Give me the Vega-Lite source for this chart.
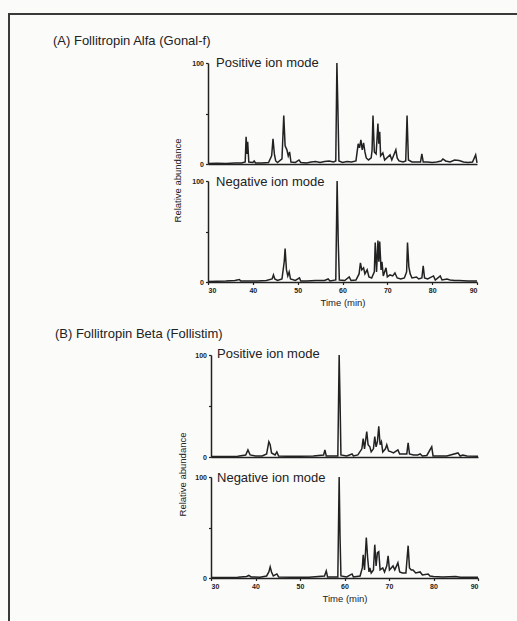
{
  "$schema": "https://vega.github.io/schema/vega-lite/v6.json",
  "width": 520,
  "height": 620,
  "autosize": {"type": "none"},
  "padding": {"left": 9, "top": 14, "right": -12, "bottom": -13},
  "background": "#fbfbfa",
  "config": {
    "view": {"stroke": "#3a3a3a", "strokeWidth": 2},
    "font": "Liberation Sans",
    "axis": {
      "grid": false,
      "domainColor": "#222",
      "domainWidth": 1.5,
      "tickColor": "#222",
      "tickSize": 2.5,
      "tickWidth": 1.2,
      "labelFont": "Liberation Sans",
      "labelFontSize": 7,
      "labelFontWeight": "bold",
      "labelColor": "#222",
      "labelPadding": 2,
      "titleFont": "Liberation Sans",
      "titleColor": "#222",
      "titleFontWeight": "normal"
    },
    "text": {"font": "Liberation Sans", "color": "#222"}
  },
  "datasets": {
    "aPos": [
      {"t": 30, "a": 0.5}, {"t": 32, "a": 0.8}, {"t": 34, "a": 0.6}, {"t": 36, "a": 1}, {"t": 37.5, "a": 1},
      {"t": 38.3, "a": 2}, {"t": 38.5, "a": 27}, {"t": 38.7, "a": 10}, {"t": 38.85, "a": 22}, {"t": 39.1, "a": 2},
      {"t": 40, "a": 1.5}, {"t": 40.3, "a": 3}, {"t": 40.6, "a": 1}, {"t": 42, "a": 1}, {"t": 43.5, "a": 1.5},
      {"t": 44.2, "a": 8}, {"t": 44.5, "a": 25}, {"t": 44.8, "a": 10}, {"t": 45.1, "a": 3}, {"t": 45.5, "a": 1.5},
      {"t": 46.5, "a": 5}, {"t": 46.9, "a": 48}, {"t": 47.2, "a": 18}, {"t": 47.6, "a": 14}, {"t": 47.9, "a": 8},
      {"t": 48.2, "a": 12}, {"t": 48.5, "a": 2}, {"t": 49.5, "a": 1.5}, {"t": 50.3, "a": 4}, {"t": 50.7, "a": 1.5},
      {"t": 52, "a": 1}, {"t": 53, "a": 2}, {"t": 54, "a": 2.5}, {"t": 55, "a": 1.5}, {"t": 56, "a": 2.5},
      {"t": 57, "a": 3}, {"t": 58, "a": 2}, {"t": 58.5, "a": 3}, {"t": 58.75, "a": 100}, {"t": 58.95, "a": 60},
      {"t": 59.2, "a": 3}, {"t": 60, "a": 1.5}, {"t": 61, "a": 2.5}, {"t": 62, "a": 2}, {"t": 63, "a": 3},
      {"t": 63.5, "a": 20}, {"t": 63.8, "a": 16}, {"t": 64.1, "a": 24}, {"t": 64.4, "a": 14}, {"t": 64.7, "a": 21},
      {"t": 65, "a": 12}, {"t": 65.3, "a": 6}, {"t": 65.8, "a": 4}, {"t": 66.4, "a": 6}, {"t": 66.6, "a": 14},
      {"t": 66.8, "a": 48}, {"t": 67.1, "a": 12}, {"t": 67.5, "a": 10}, {"t": 67.9, "a": 40}, {"t": 68.1, "a": 20},
      {"t": 68.3, "a": 32}, {"t": 68.5, "a": 8}, {"t": 69, "a": 11}, {"t": 69.4, "a": 4}, {"t": 70.6, "a": 9},
      {"t": 71, "a": 4}, {"t": 71.9, "a": 14}, {"t": 72.2, "a": 6}, {"t": 72.6, "a": 3}, {"t": 73.5, "a": 2},
      {"t": 74.1, "a": 3}, {"t": 74.4, "a": 48}, {"t": 74.7, "a": 4}, {"t": 75.5, "a": 2}, {"t": 76.5, "a": 2},
      {"t": 77.4, "a": 2}, {"t": 77.7, "a": 10}, {"t": 78, "a": 2}, {"t": 79, "a": 2}, {"t": 80, "a": 1.5},
      {"t": 81, "a": 2}, {"t": 82, "a": 3}, {"t": 82.4, "a": 5}, {"t": 83, "a": 3}, {"t": 84, "a": 2},
      {"t": 85, "a": 4}, {"t": 86, "a": 3.5}, {"t": 87, "a": 2}, {"t": 88, "a": 1.5}, {"t": 89, "a": 2},
      {"t": 89.7, "a": 9}, {"t": 90, "a": 1}
    ],
    "aNeg": [
      {"t": 30, "a": 0.5}, {"t": 32, "a": 0.8}, {"t": 34, "a": 1}, {"t": 36, "a": 1.5}, {"t": 37, "a": 2.5},
      {"t": 37.3, "a": 1}, {"t": 39, "a": 1}, {"t": 41, "a": 1}, {"t": 43, "a": 1.5}, {"t": 44.3, "a": 3},
      {"t": 44.6, "a": 7}, {"t": 44.9, "a": 3}, {"t": 45.5, "a": 1.5}, {"t": 46.5, "a": 3}, {"t": 47, "a": 20},
      {"t": 47.2, "a": 33}, {"t": 47.5, "a": 12}, {"t": 47.8, "a": 6}, {"t": 48.1, "a": 10}, {"t": 48.4, "a": 3},
      {"t": 49.5, "a": 1.5}, {"t": 50.4, "a": 4}, {"t": 50.7, "a": 1}, {"t": 52, "a": 1}, {"t": 54, "a": 1.5},
      {"t": 56, "a": 1.5}, {"t": 56.8, "a": 3}, {"t": 57.2, "a": 1}, {"t": 58.5, "a": 2}, {"t": 58.8, "a": 100},
      {"t": 59.05, "a": 40}, {"t": 59.3, "a": 2}, {"t": 60.5, "a": 1.5}, {"t": 61.5, "a": 5}, {"t": 61.9, "a": 1.5},
      {"t": 63, "a": 2}, {"t": 63.7, "a": 8}, {"t": 64, "a": 19}, {"t": 64.3, "a": 12}, {"t": 64.7, "a": 14},
      {"t": 65, "a": 8}, {"t": 65.5, "a": 12}, {"t": 65.9, "a": 5}, {"t": 66.5, "a": 4}, {"t": 67.1, "a": 10},
      {"t": 67.3, "a": 39}, {"t": 67.6, "a": 10}, {"t": 67.9, "a": 41}, {"t": 68.1, "a": 20}, {"t": 68.3, "a": 40},
      {"t": 68.6, "a": 12}, {"t": 68.8, "a": 20}, {"t": 69.1, "a": 6}, {"t": 69.7, "a": 14}, {"t": 70, "a": 5},
      {"t": 70.6, "a": 7}, {"t": 71.2, "a": 6}, {"t": 71.7, "a": 9}, {"t": 72.2, "a": 4}, {"t": 73, "a": 3},
      {"t": 73.8, "a": 4}, {"t": 74.3, "a": 10}, {"t": 74.5, "a": 39}, {"t": 74.8, "a": 15}, {"t": 75.1, "a": 8},
      {"t": 75.5, "a": 4}, {"t": 76.5, "a": 5}, {"t": 77, "a": 3}, {"t": 77.7, "a": 4}, {"t": 78, "a": 16},
      {"t": 78.3, "a": 4}, {"t": 79, "a": 3}, {"t": 80.3, "a": 6}, {"t": 80.7, "a": 2}, {"t": 81.8, "a": 6},
      {"t": 82.2, "a": 2}, {"t": 83.3, "a": 3}, {"t": 84, "a": 2}, {"t": 85, "a": 1.5}, {"t": 86, "a": 1.5},
      {"t": 88, "a": 1}, {"t": 90, "a": 1}
    ],
    "bPos": [
      {"t": 30, "a": 0.5}, {"t": 33, "a": 0.5}, {"t": 36, "a": 0.8}, {"t": 37.8, "a": 2}, {"t": 38.3, "a": 7},
      {"t": 38.8, "a": 2}, {"t": 40, "a": 1}, {"t": 41.5, "a": 1}, {"t": 42.5, "a": 3}, {"t": 43, "a": 15},
      {"t": 43.3, "a": 12}, {"t": 43.6, "a": 4}, {"t": 44.4, "a": 2}, {"t": 44.8, "a": 5}, {"t": 45.2, "a": 1},
      {"t": 47, "a": 0.8}, {"t": 50, "a": 0.8}, {"t": 53, "a": 1}, {"t": 55.3, "a": 2}, {"t": 55.6, "a": 7},
      {"t": 55.9, "a": 1}, {"t": 57, "a": 1}, {"t": 58.5, "a": 1}, {"t": 58.8, "a": 100}, {"t": 59, "a": 55},
      {"t": 59.2, "a": 2}, {"t": 60.5, "a": 1}, {"t": 61.7, "a": 3}, {"t": 62, "a": 1}, {"t": 63, "a": 2},
      {"t": 63.9, "a": 8}, {"t": 64.2, "a": 18}, {"t": 64.5, "a": 8}, {"t": 65, "a": 25}, {"t": 65.3, "a": 12},
      {"t": 65.7, "a": 10}, {"t": 66, "a": 5}, {"t": 66.5, "a": 8}, {"t": 66.8, "a": 20}, {"t": 67.1, "a": 10},
      {"t": 67.4, "a": 15}, {"t": 67.7, "a": 30}, {"t": 68, "a": 12}, {"t": 68.3, "a": 15}, {"t": 68.6, "a": 5},
      {"t": 69.2, "a": 8}, {"t": 69.5, "a": 12}, {"t": 69.9, "a": 6}, {"t": 70.5, "a": 5}, {"t": 71, "a": 4},
      {"t": 72, "a": 7}, {"t": 72.4, "a": 3}, {"t": 73, "a": 3}, {"t": 74, "a": 3}, {"t": 74.3, "a": 14},
      {"t": 74.6, "a": 3}, {"t": 75.5, "a": 2}, {"t": 76.5, "a": 2}, {"t": 77, "a": 3}, {"t": 77.5, "a": 1},
      {"t": 78.5, "a": 1.5}, {"t": 79.6, "a": 10}, {"t": 79.9, "a": 1}, {"t": 81, "a": 1}, {"t": 83, "a": 1},
      {"t": 85.5, "a": 4}, {"t": 86, "a": 1}, {"t": 86.6, "a": 2}, {"t": 87.5, "a": 1}, {"t": 90, "a": 0.8}
    ],
    "bNeg": [
      {"t": 30, "a": 0.5}, {"t": 33, "a": 0.5}, {"t": 36, "a": 0.8}, {"t": 38, "a": 1.5}, {"t": 38.5, "a": 2.5},
      {"t": 39, "a": 1}, {"t": 41, "a": 0.8}, {"t": 42.5, "a": 2}, {"t": 43, "a": 6}, {"t": 43.3, "a": 11},
      {"t": 43.6, "a": 6}, {"t": 44, "a": 2}, {"t": 44.8, "a": 4}, {"t": 45.2, "a": 1}, {"t": 48, "a": 0.8},
      {"t": 52, "a": 0.8}, {"t": 55.5, "a": 2}, {"t": 55.9, "a": 7}, {"t": 56.2, "a": 1}, {"t": 58.5, "a": 1},
      {"t": 58.8, "a": 100}, {"t": 59, "a": 40}, {"t": 59.2, "a": 2}, {"t": 60.5, "a": 1}, {"t": 61.7, "a": 4},
      {"t": 62, "a": 1}, {"t": 63.5, "a": 2}, {"t": 64, "a": 10}, {"t": 64.2, "a": 23}, {"t": 64.5, "a": 8},
      {"t": 64.9, "a": 40}, {"t": 65.2, "a": 20}, {"t": 65.5, "a": 6}, {"t": 65.7, "a": 10}, {"t": 66, "a": 5},
      {"t": 66.5, "a": 8}, {"t": 66.8, "a": 33}, {"t": 67.1, "a": 12}, {"t": 67.4, "a": 25}, {"t": 67.7, "a": 26},
      {"t": 68, "a": 8}, {"t": 68.6, "a": 10}, {"t": 69, "a": 6}, {"t": 69.5, "a": 12}, {"t": 69.8, "a": 22},
      {"t": 70.1, "a": 8}, {"t": 70.5, "a": 10}, {"t": 70.9, "a": 12}, {"t": 71.3, "a": 8}, {"t": 72, "a": 15},
      {"t": 72.4, "a": 6}, {"t": 73, "a": 5}, {"t": 73.8, "a": 5}, {"t": 74.3, "a": 32}, {"t": 74.6, "a": 10},
      {"t": 75, "a": 8}, {"t": 75.4, "a": 8}, {"t": 76, "a": 5}, {"t": 77, "a": 6}, {"t": 77.5, "a": 3},
      {"t": 78.8, "a": 4}, {"t": 79.2, "a": 2}, {"t": 80, "a": 1.5}, {"t": 82, "a": 1}, {"t": 85, "a": 1.5},
      {"t": 86, "a": 0.8}, {"t": 88, "a": 0.8}, {"t": 90, "a": 0.8}
    ]
  },
  "resolve": {
    "scale": {"x": "independent", "y": "independent"},
    "axis": {"x": "independent", "y": "independent"}
  },
  "layer": [
    {
      "data": {"name": "aPos"},
      "mark": {"type": "line", "color": "#222", "strokeWidth": 1.5},
      "encoding": {
        "x": {"field": "t", "type": "quantitative", "scale": {"domain": [30, 90], "range": [199, 468], "nice": false, "zero": false},
              "axis": {"orient": "bottom", "offset": -470, "labels": false, "ticks": false, "title": null}},
        "y": {"field": "a", "type": "quantitative", "scale": {"domain": [0, 100], "range": [150, 49], "nice": false},
              "axis": {"orient": "left", "offset": -199, "values": [0, 50, 100], "labelExpr": "datum.value == 50 ? '' : datum.label", "title": null}}
      }
    },
    {
      "data": {"name": "aNeg"},
      "mark": {"type": "line", "color": "#222", "strokeWidth": 1.5},
      "encoding": {
        "x": {"field": "t", "type": "quantitative", "scale": {"domain": [30, 90], "range": [199, 468], "nice": false, "zero": false},
              "axis": {"orient": "bottom", "offset": -352, "values": [30, 40, 50, 60, 70, 80, 90], "title": "Time (min)", "titleFontSize": 9.5, "titlePadding": 4}},
        "y": {"field": "a", "type": "quantitative", "scale": {"domain": [0, 100], "range": [268, 167], "nice": false},
              "axis": {"orient": "left", "offset": -199, "values": [0, 50, 100], "labelExpr": "datum.value == 50 ? '' : datum.label",
                       "title": "Relative abundance", "titleFontSize": 9.5, "titleAngle": -90, "titleX": -31, "titleY": 166, "titleAlign": "center", "titleBaseline": "middle"}}
      }
    },
    {
      "data": {"name": "bPos"},
      "mark": {"type": "line", "color": "#222", "strokeWidth": 1.5},
      "encoding": {
        "x": {"field": "t", "type": "quantitative", "scale": {"domain": [30, 90], "range": [202, 469], "nice": false, "zero": false},
              "axis": {"orient": "bottom", "offset": -177, "labels": false, "ticks": false, "title": null}},
        "y": {"field": "a", "type": "quantitative", "scale": {"domain": [0, 100], "range": [443, 341], "nice": false},
              "axis": {"orient": "left", "offset": -202, "values": [0, 50, 100], "labelExpr": "datum.value == 50 ? '' : datum.label", "title": null}}
      }
    },
    {
      "data": {"name": "bNeg"},
      "mark": {"type": "line", "color": "#222", "strokeWidth": 1.5},
      "encoding": {
        "x": {"field": "t", "type": "quantitative", "scale": {"domain": [30, 90], "range": [202, 469], "nice": false, "zero": false},
              "axis": {"orient": "bottom", "offset": -56, "values": [30, 40, 50, 60, 70, 80, 90], "title": "Time (min)", "titleFontSize": 9.5, "titlePadding": 4}},
        "y": {"field": "a", "type": "quantitative", "scale": {"domain": [0, 100], "range": [564, 463], "nice": false},
              "axis": {"orient": "left", "offset": -202, "values": [0, 50, 100], "labelExpr": "datum.value == 50 ? '' : datum.label",
                       "title": "Relative abundance", "titleFontSize": 9.5, "titleAngle": -90, "titleX": -29, "titleY": 460, "titleAlign": "center", "titleBaseline": "middle"}}
      }
    },
    {
      "data": {"values": [{}]},
      "mark": {"type": "text", "text": "(A) Follitropin Alfa (Gonal-f)", "align": "left", "baseline": "alphabetic", "fontSize": 13},
      "encoding": {
        "x": {"datum": -4.57, "type": "quantitative", "scale": {"domain": [30, 90], "range": [199, 468], "nice": false, "zero": false}, "axis": null},
        "y": {"datum": 118, "type": "quantitative", "scale": {"domain": [0, 100], "range": [150, 49], "nice": false}, "axis": null}
      }
    },
    {
      "data": {"values": [{}]},
      "mark": {"type": "text", "text": "Positive ion mode", "align": "left", "baseline": "alphabetic", "fontSize": 13},
      "encoding": {
        "x": {"datum": 31.8, "type": "quantitative", "scale": {"domain": [30, 90], "range": [199, 468], "nice": false, "zero": false}, "axis": null},
        "y": {"datum": 96, "type": "quantitative", "scale": {"domain": [0, 100], "range": [150, 49], "nice": false}, "axis": null}
      }
    },
    {
      "data": {"values": [{}]},
      "mark": {"type": "text", "text": "Negative ion mode", "align": "left", "baseline": "alphabetic", "fontSize": 13},
      "encoding": {
        "x": {"datum": 31.8, "type": "quantitative", "scale": {"domain": [30, 90], "range": [199, 468], "nice": false, "zero": false}, "axis": null},
        "y": {"datum": 95, "type": "quantitative", "scale": {"domain": [0, 100], "range": [268, 167], "nice": false}, "axis": null}
      }
    },
    {
      "data": {"values": [{}]},
      "mark": {"type": "text", "text": "(B) Follitropin Beta (Follistim)", "align": "left", "baseline": "alphabetic", "fontSize": 13},
      "encoding": {
        "x": {"datum": -5.06, "type": "quantitative", "scale": {"domain": [30, 90], "range": [202, 469], "nice": false, "zero": false}, "axis": null},
        "y": {"datum": 117, "type": "quantitative", "scale": {"domain": [0, 100], "range": [443, 341], "nice": false}, "axis": null}
      }
    },
    {
      "data": {"values": [{}]},
      "mark": {"type": "text", "text": "Positive ion mode", "align": "left", "baseline": "alphabetic", "fontSize": 13},
      "encoding": {
        "x": {"datum": 31.35, "type": "quantitative", "scale": {"domain": [30, 90], "range": [202, 469], "nice": false, "zero": false}, "axis": null},
        "y": {"datum": 97, "type": "quantitative", "scale": {"domain": [0, 100], "range": [443, 341], "nice": false}, "axis": null}
      }
    },
    {
      "data": {"values": [{}]},
      "mark": {"type": "text", "text": "Negative ion mode", "align": "left", "baseline": "alphabetic", "fontSize": 13},
      "encoding": {
        "x": {"datum": 31.35, "type": "quantitative", "scale": {"domain": [30, 90], "range": [202, 469], "nice": false, "zero": false}, "axis": null},
        "y": {"datum": 95, "type": "quantitative", "scale": {"domain": [0, 100], "range": [564, 463], "nice": false}, "axis": null}
      }
    }
  ]
}
